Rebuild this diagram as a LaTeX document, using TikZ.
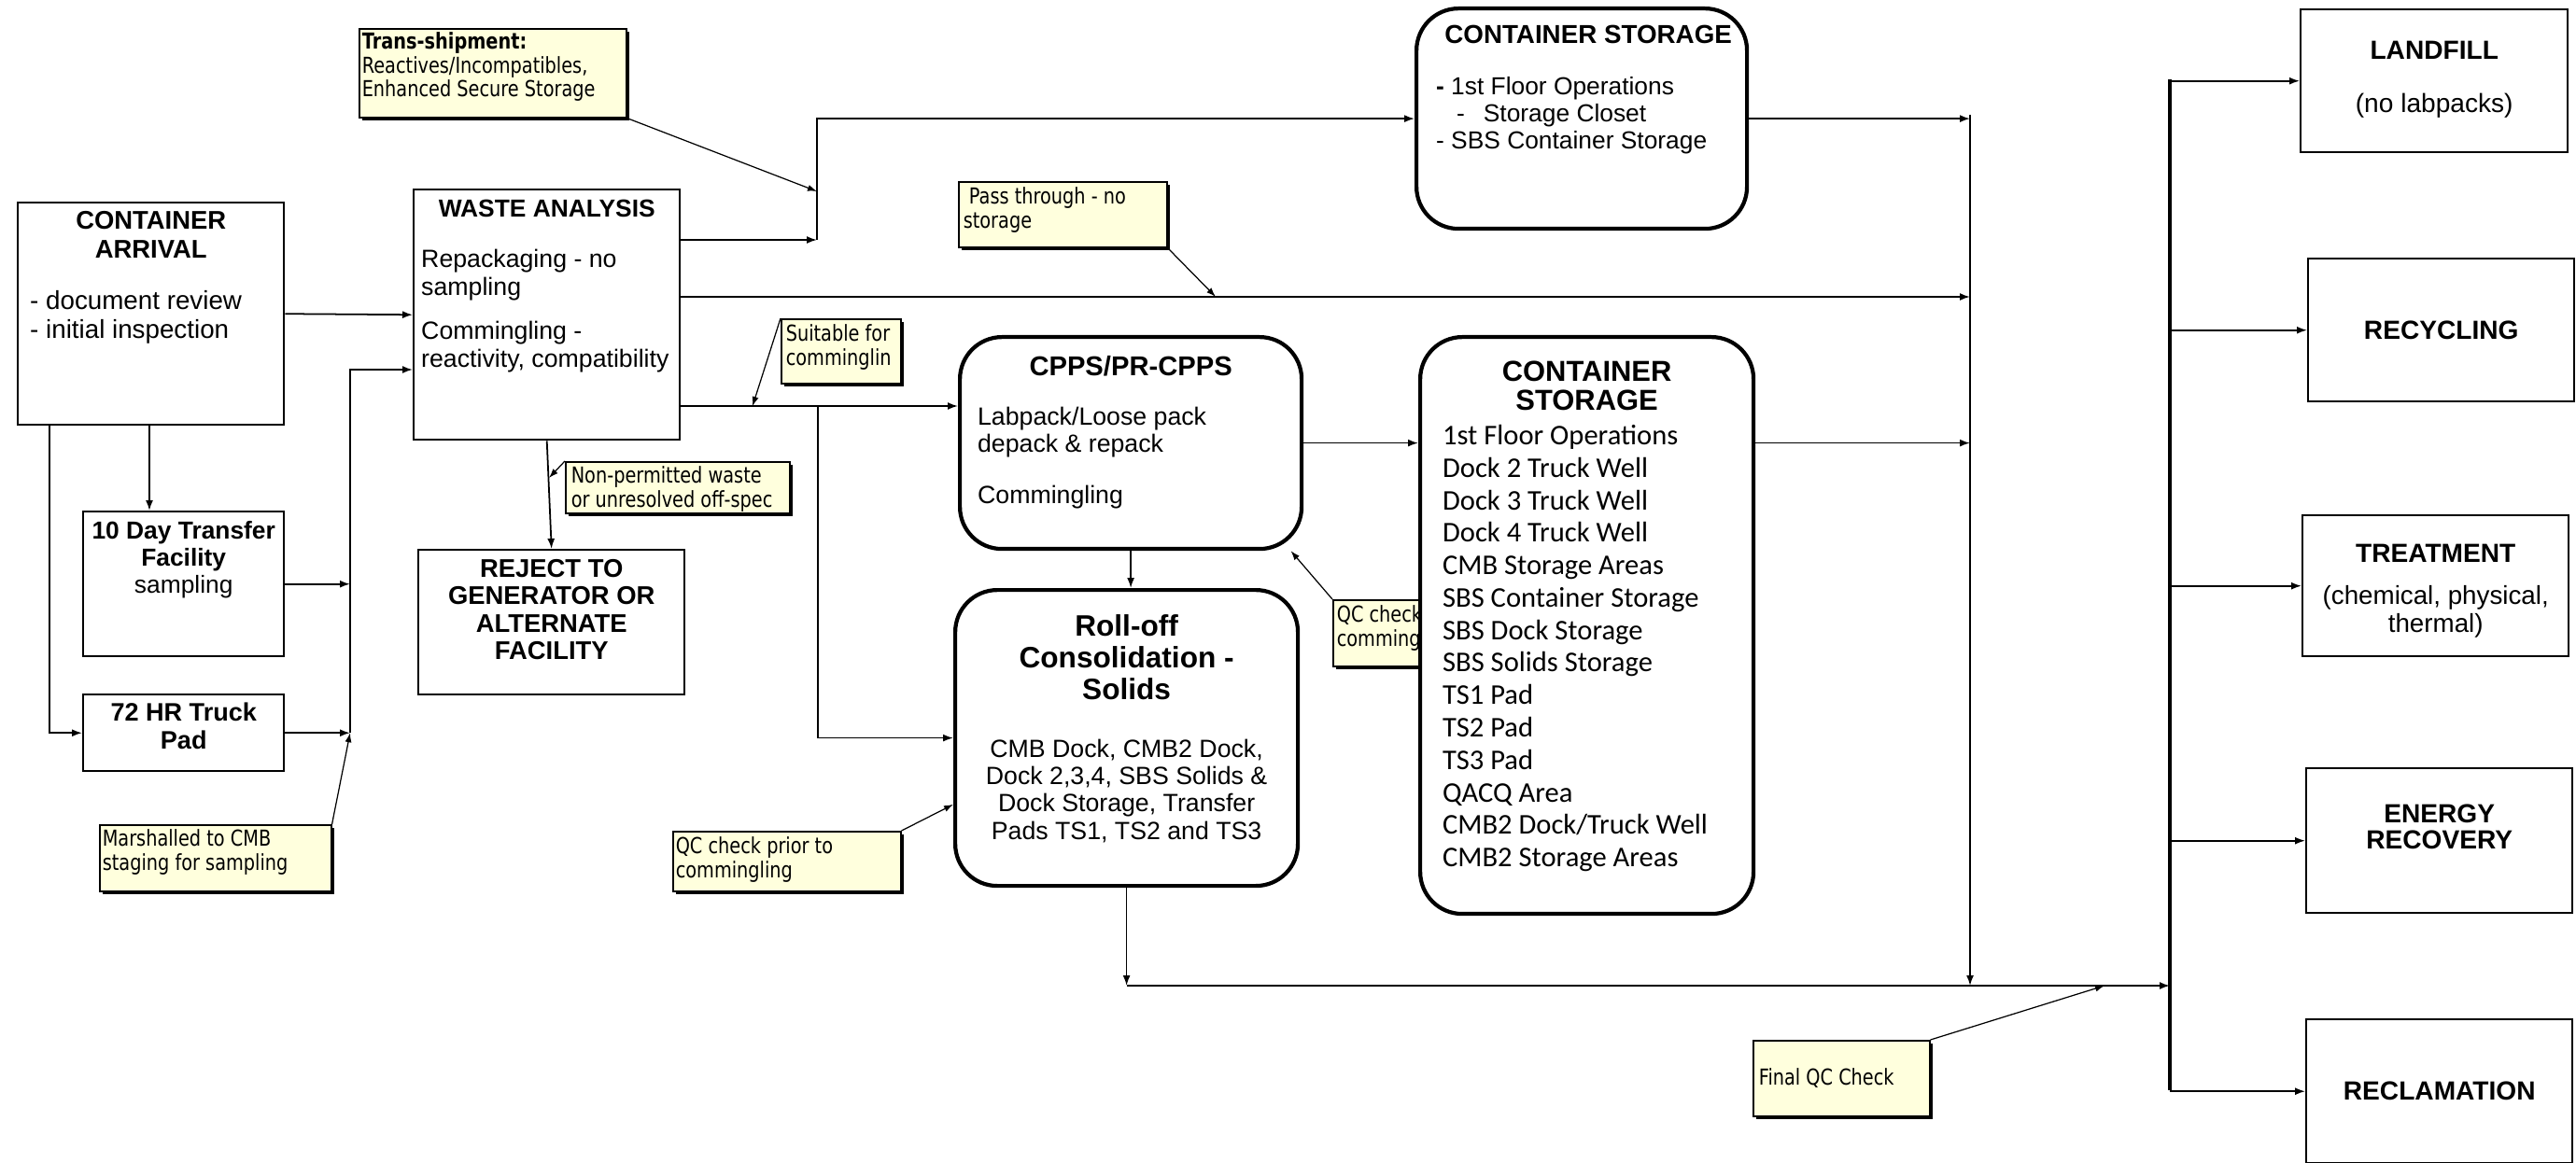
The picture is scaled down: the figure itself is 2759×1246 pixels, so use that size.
\documentclass[tikz,border=0pt]{standalone}
\usepackage{fontspec}
\setmainfont{Liberation Sans}
\newfontfamily\notefont[FakeStretch=0.82]{DejaVu Sans}
\newfontfamily\listfont{Carlito}
\usetikzlibrary{arrows.meta,shadows}
\definecolor{noteyellow}{RGB}{255,255,221}

\begin{document}
\begin{tikzpicture}[x=0.1mm, y=-0.1mm,
  box/.style={draw, line width=0.7pt, fill=white, inner sep=0pt, anchor=north west,
    font=\fontsize{7.7}{8.5}\selectfont},
  rbox/.style={box, line width=1.2pt, rounded corners=4.5mm},
  note/.style={draw, line width=0.45pt, fill=noteyellow, inner sep=0pt, anchor=north west,
    drop shadow={shadow xshift=0.3mm, shadow yshift=-0.3mm, fill=black, opacity=1},
    font=\notefont\fontsize{6.7}{7.3}\selectfont},
  arr/.style={-{Latex[length=1.1mm,width=0.8mm]}, line width=0.5pt},
  ptr/.style={-{Latex[length=1mm,width=0.7mm]}, line width=0.35pt}]
  \useasboundingbox (0,0) rectangle (2759,1246);

  % --- Incoming side ---
  \node[box] (arrival) at (18,216) {\parbox[c][23.8mm][t]{28.5mm}{\vspace*{0.9mm}\centering\bfseries\fontsize{7.8}{8.9}\selectfont CONTAINER\\ARRIVAL\par\vspace{2.5mm}\raggedright\mdseries\fontsize{7.9}{8.6}\selectfont\leftskip=1.3mm - document review\\- initial inspection\par}};
  \node[box] (analysis) at (442,202) {\parbox[c][26.8mm][t]{28.5mm}{\vspace*{1.1mm}\centering\bfseries\fontsize{7.5}{8}\selectfont WASTE ANALYSIS\par\vspace{2.4mm}\raggedright\mdseries\fontsize{7.6}{8.5}\selectfont\leftskip=0.8mm Repackaging - no\\sampling\par\vspace{1.7mm}Commingling -\\reactivity, compatibility\par}};
  \node[box] (tenday) at (88,547) {\parbox[c][15.5mm][t]{21.5mm}{\vspace*{1mm}\centering\bfseries\fontsize{7.5}{8.3}\selectfont 10 Day Transfer\\Facility\\\mdseries sampling\par}};
  \node[box] (truck) at (88,743) {\parbox[c][8.2mm][t]{21.5mm}{\vspace*{0.9mm}\centering\bfseries\fontsize{7.7}{8.5}\selectfont 72 HR Truck\\Pad\par}};
  \node[box] (reject) at (447,588) {\parbox[c][15.5mm][t]{28.5mm}{\vspace*{1mm}\centering\bfseries\fontsize{7.8}{8.4}\selectfont REJECT TO\\GENERATOR OR\\ALTERNATE\\FACILITY\par}};

  % --- Processing and storage ---
  \node[rbox] (cpps) at (1026,359) {\parbox[c][22.7mm][t]{36.6mm}{\vspace*{2mm}\centering\bfseries\fontsize{8.3}{9}\selectfont CPPS/PR-CPPS\par\vspace{2.4mm}\raggedright\mdseries\fontsize{7.6}{8.3}\selectfont\leftskip=1.9mm Labpack/Loose pack\\depack \& repack\par\vspace{2.6mm}Commingling\par}};
  \node[rbox] (rolloff) at (1021,630) {\parbox[c][31.7mm][t]{36.7mm}{\vspace*{2.6mm}\centering\bfseries\fontsize{9}{9.8}\selectfont Roll-off\\Consolidation -\\Solids\par\vspace{3.2mm}\mdseries\fontsize{7.6}{8.35}\selectfont CMB Dock, CMB2 Dock,\\Dock 2,3,4, SBS Solids \&\\Dock Storage, Transfer\\Pads TS1, TS2 and TS3\par}};
  \node[rbox] (cs1) at (1515,7) {\parbox[c][23.6mm][t]{35.4mm}{\vspace*{1.8mm}\centering\bfseries\fontsize{7.9}{8.6}\selectfont\hspace*{1.4mm}CONTAINER STORAGE\par\vspace{2.6mm}\raggedright\mdseries\fontsize{7.5}{8.25}\selectfont\leftskip=2.1mm \textbf{-} 1st Floor Operations\\\hspace*{2.2mm}-\hspace{2mm}Storage Closet\\- SBS Container Storage\par}};
  % note sits partly under the big storage box
  \node[note] (qcr) at (1427,642) {\parbox[c][7.1mm][t]{13.5mm}{\vspace*{0.6mm}\leftskip=0.4mm QC check\\comming\par}};
  \node[rbox] (cs2) at (1519,359) {\parbox[c][61.8mm][t]{35.7mm}{\vspace*{2.6mm}\centering\bfseries\fontsize{8.8}{8.8}\selectfont CONTAINER\\STORAGE\par\vspace{0.2mm}\raggedright\mdseries\listfont\fontsize{8.7}{9.9}\selectfont\leftskip=2.4mm 1st Floor Operations\\Dock 2 Truck Well\\Dock 3 Truck Well\\Dock 4 Truck Well\\CMB Storage Areas\\SBS Container Storage\\SBS Dock Storage\\SBS Solids Storage\\TS1 Pad\\TS2 Pad\\TS3 Pad\\QACQ Area\\CMB2 Dock/Truck Well\\CMB2 Storage Areas\par}};

  % --- Destinations ---
  \node[box] (landfill) at (2463,9) {\parbox[c][15.3mm][t]{28.6mm}{\vspace*{3.4mm}\centering\bfseries\fontsize{8}{8.8}\selectfont LANDFILL\par\vspace{2.6mm}\mdseries (no labpacks)\par}};
  \node[box] (recycling) at (2471,276) {\parbox[c][15.3mm][c]{28.5mm}{\centering\bfseries\fontsize{8}{8.8}\selectfont RECYCLING\par}};
  \node[box] (treatment) at (2465,551) {\parbox[c][15.1mm][t]{28.5mm}{\vspace*{3.1mm}\centering\bfseries\fontsize{8}{8.8}\selectfont TREATMENT\par\vspace{2mm}\mdseries\fontsize{7.9}{7.2}\selectfont (chemical, physical,\\thermal)\par}};
  \node[box] (energy) at (2469,822) {\parbox[c][15.5mm][t]{28.5mm}{\vspace*{3.9mm}\centering\bfseries\fontsize{8}{8}\selectfont ENERGY\\RECOVERY\par}};
  \node[box] (reclamation) at (2469,1091) {\parbox[c][15.4mm][c]{28.5mm}{\centering\bfseries\fontsize{8}{8.8}\selectfont RECLAMATION\par}};

  % --- Yellow call-outs ---
  \node[note] (trans) at (384,30) {\parbox[c][9.5mm][t]{28.6mm}{\vspace*{0.4mm}\leftskip=0.3mm\textbf{Trans-shipment:}\\Reactives/Incompatibles,\\Enhanced Secure Storage\par}};
  \node[note] (marsh) at (106,883) {\parbox[c][7.1mm][t]{24.8mm}{\vspace*{0.5mm}\leftskip=0.3mm Marshalled to CMB\\staging for sampling\par}};
  \node[note] (nonp) at (605,494) {\parbox[c][5.5mm][t]{24mm}{\vspace*{0.5mm}\leftskip=0.6mm Non-permitted waste\\or unresolved off-spec\par}};
  \node[note] (suit) at (836,341) {\parbox[c][6.9mm][t]{12.8mm}{\vspace*{0.6mm}\leftskip=0.5mm Suitable for\\comminglin\par}};
  \node[note] (pass) at (1026,194) {\parbox[c][7mm][t]{22.3mm}{\vspace*{0.6mm}\leftskip=0.5mm\ Pass through - no\\storage\par}};
  \node[note] (qcl) at (720,890) {\parbox[c][6.4mm][t]{24.4mm}{\vspace*{0.6mm}\leftskip=0.3mm QC check prior to\\commingling\par}};
  \node[note] (fqc) at (1877,1114) {\parbox[c][8.1mm][c]{18.9mm}{\leftskip=0.6mm Final QC Check\par}};

  % junction points
  \coordinate (tdtop) at (160,547);
  \coordinate (jl) at (375,396);
  \coordinate (jt) at (875,257);
  \coordinate (jtt) at (875,205);
  \coordinate (wapass) at (727,318);
  \coordinate (ppt) at (1302,318);
  \coordinate (wacpps) at (727,435);
  \coordinate (jr) at (876,435);
  \coordinate (spt) at (806,435);
  \coordinate (npt) at (588,512);
  \coordinate (bustop) at (2110,123);
  \coordinate (busbot) at (2110,1056);
  \coordinate (fpt) at (2254,1056);
  \coordinate (rtop) at (2324,85);
  \coordinate (rbot) at (2324,1168);

  % feeds into waste analysis
  \draw[arr] (arrival.east) -- (analysis.west);
  \draw[arr] (arrival.south west) ++(35,0) |- (truck.west);
  \draw[arr] (arrival.south -| tdtop) -- (tdtop);
  \draw[arr] (tenday.east) -- (tenday.east -| jl);
  \draw[arr] (truck.east) -- (truck.east -| jl);
  \draw[arr] (truck.east -| jl) -- (jl) -- (jl -| analysis.west);
  \draw[ptr] (marsh.north east) -- (truck.east -| jl);

  % out of waste analysis
  \draw[arr] (jt -| analysis.east) -- (jt);
  \draw[arr] (jt) |- (cs1.west);
  \draw[ptr] (trans.south east) -- (jtt);
  \draw[arr] (wapass) -- (wapass -| bustop);
  \draw[ptr] (pass.south east) -- (ppt);
  \draw[arr] (wacpps) -- (wacpps -| cpps.west);
  \draw[arr] (jr) |- (rolloff.west);
  \draw[ptr] (suit.north west) -- (spt);
  \draw[arr] (analysis.south) -- (reject.north);
  \draw[ptr] (nonp.north west) -- (npt);

  % processing
  \draw[ptr] (qcl.north east) -- (rolloff.201);
  \draw[arr] (cpps.south) -- (cpps.south |- rolloff.north);
  \draw[arr] (cpps.east) -- (cpps.east -| cs2.west);
  \draw[ptr] (qcr.north west) -- (cpps.-34);

  % storage to collector and on to destinations
  \draw[arr] (cs1.east) -- (cs1.east -| bustop);
  \draw[arr] (cpps.east -| cs2.east) -- (cpps.east -| bustop);
  \draw[arr] (bustop) -- (busbot);
  \draw[arr] (rolloff.south) -- (rolloff.south |- busbot);
  \draw[arr] (rolloff.south |- busbot) -- (busbot -| rtop);
  \draw[ptr] (fqc.north east) -- (fpt);
  \draw[line width=0.9pt] (rtop) -- (rbot);
  \foreach \dest in {landfill,recycling,treatment,energy,reclamation}
    \draw[arr] (\dest.west -| rtop) -- (\dest.west);
\end{tikzpicture}
\end{document}
